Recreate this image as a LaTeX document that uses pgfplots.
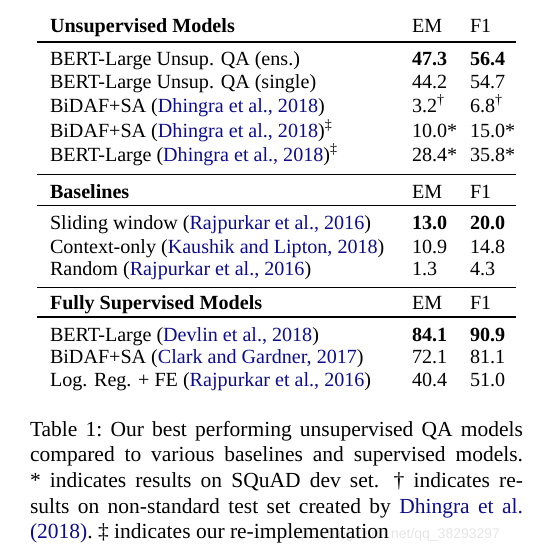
\documentclass[border=0pt]{standalone}
\usepackage{pgfplots}
\pgfplotsset{compat=1.18}
\usepackage{fontspec}
\setmainfont{Liberation Serif}
\newfontfamily\wm{Liberation Sans}
\definecolor{citeblue}{rgb}{0.05,0.05,0.55}
\newcommand\mycite[1]{(\textcolor{citeblue}{#1})}
\newcommand\tabfont{\fontsize{20.1bp}{22bp}\selectfont}
\newcommand\capfont{\fontsize{21.5bp}{25bp}\selectfont\frenchspacing}
\tikzset{
  t/.style={font=\tabfont, anchor=base west, inner sep=0pt, outer sep=0pt},
  tb/.style={font=\tabfont\bfseries, anchor=base west, inner sep=0pt, outer sep=0pt},
  c/.style={font=\capfont, anchor=base west, inner sep=0pt, outer sep=0pt},
}
\begin{document}
\begin{tikzpicture}
\begin{axis}[hide axis, scale only axis, width=539bp, height=552bp,
  xmin=0, xmax=539, ymin=0, ymax=552, y dir=reverse, clip=false]
\path (axis cs:0,0) rectangle (axis cs:539,552);
% watermark
\node[anchor=base west, inner sep=0pt, text=black!10, font=\wm\fontsize{14bp}{16bp}\selectfont] at (axis cs:285,538) {https://blog.csdn.net/qq\_38293297};
% rules
\draw[line width=1.3bp] (axis cs:37,42) -- (axis cs:516,42);
\draw[line width=1.0bp] (axis cs:37,174) -- (axis cs:516,174);
\draw[line width=1.0bp] (axis cs:37,205) -- (axis cs:516,205);
\draw[line width=1.0bp] (axis cs:37,287) -- (axis cs:516,287);
\draw[line width=1.3bp] (axis cs:37,317) -- (axis cs:516,317);
% section 1
\node[tb] at (axis cs:50,33) {Unsupervised Models};
\node[t] at (axis cs:412,33) {EM};
\node[t] at (axis cs:470,33) {F1};
\node[t] at (axis cs:50,66) {BERT-Large Unsup. QA (ens.)};
\node[tb] at (axis cs:412,66) {47.3};
\node[tb] at (axis cs:470,66) {56.4};
\node[t] at (axis cs:50,89) {BERT-Large Unsup. QA (single)};
\node[t] at (axis cs:412,89) {44.2};
\node[t] at (axis cs:470,89) {54.7};
\node[t] at (axis cs:50,112) {BiDAF+SA \mycite{Dhingra et al., 2018}};
\node[t] at (axis cs:412,112) {3.2\textsuperscript{†}};
\node[t] at (axis cs:470,112) {6.8\textsuperscript{†}};
\node[t] at (axis cs:50,137) {BiDAF+SA \mycite{Dhingra et al., 2018}\textsuperscript{‡}};
\node[t] at (axis cs:412,137) {10.0*};
\node[t] at (axis cs:470,137) {15.0*};
\node[t] at (axis cs:50,161) {BERT-Large \mycite{Dhingra et al., 2018}\textsuperscript{‡}};
\node[t] at (axis cs:412,161) {28.4*};
\node[t] at (axis cs:470,161) {35.8*};
% section 2
\node[tb] at (axis cs:50,198) {Baselines};
\node[t] at (axis cs:412,198) {EM};
\node[t] at (axis cs:470,198) {F1};
\node[t] at (axis cs:50,229) {Sliding window \mycite{Rajpurkar et al., 2016}};
\node[tb] at (axis cs:412,229) {13.0};
\node[tb] at (axis cs:470,229) {20.0};
\node[t] at (axis cs:50,253) {Context-only \mycite{Kaushik and Lipton, 2018}};
\node[t] at (axis cs:412,253) {10.9};
\node[t] at (axis cs:470,253) {14.8};
\node[t] at (axis cs:50,275) {Random \mycite{Rajpurkar et al., 2016}};
\node[t] at (axis cs:412,275) {1.3};
\node[t] at (axis cs:470,275) {4.3};
% section 3
\node[tb] at (axis cs:50,309) {Fully Supervised Models};
\node[t] at (axis cs:412,309) {EM};
\node[t] at (axis cs:470,309) {F1};
\node[t] at (axis cs:50,341) {BERT-Large \mycite{Devlin et al., 2018}};
\node[tb] at (axis cs:412,341) {84.1};
\node[tb] at (axis cs:470,341) {90.9};
\node[t] at (axis cs:50,363) {BiDAF+SA \mycite{Clark and Gardner, 2017}};
\node[t] at (axis cs:412,363) {72.1};
\node[t] at (axis cs:470,363) {81.1};
\node[t] at (axis cs:50,386) {Log. Reg. + FE \mycite{Rajpurkar et al., 2016}};
\node[t] at (axis cs:412,386) {40.4};
\node[t] at (axis cs:470,386) {51.0};
% caption
\node[c] at (axis cs:30,436) {\makebox[493bp][s]{Table 1: Our best performing unsupervised QA models}};
\node[c] at (axis cs:30,461) {\makebox[493bp][s]{compared to various baselines and supervised models.}};
\node[c] at (axis cs:30,487) {\makebox[493bp][s]{* indicates results on SQuAD dev set.\hspace{0.25em} † indicates re-}};
\node[c] at (axis cs:30,513) {\makebox[493bp][s]{sults on non-standard test set created by \textcolor{citeblue}{Dhingra et al.}}};
\node[c] at (axis cs:30,538) {\textcolor{citeblue}{(2018)}. ‡ indicates our re-implementation};
\end{axis}
\end{tikzpicture}
\end{document}
